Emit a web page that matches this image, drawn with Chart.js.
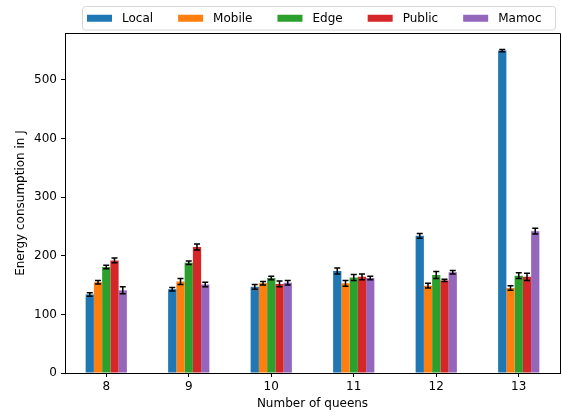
<!DOCTYPE html>
<html>
<head>
<meta charset="utf-8">
<script src="https://cdn.jsdelivr.net/npm/chart.js@4/dist/chart.umd.min.js"></script>
<style>
  html,body{margin:0;padding:0;background:#fff;}
  #wrap{width:562px;height:418px;}
</style>
</head>
<body>
<div id="wrap"><canvas id="c" width="562" height="418"></canvas></div>
<script>
const queens = ['8','9','10','11','12','13'];
const seriesNames = ['Local','Mobile','Edge','Public','Mamoc'];
const seriesColors = ['#1f77b4','#ff7f0e','#2ca02c','#d62728','#9467bd'];
const localVals  = [134, 143, 147, 174, 234, 550];
const mobileVals = [155, 156, 153, 153, 149, 145];
const edgeVals   = [181, 188, 162, 163, 167, 166];
const publicVals = [192, 215, 152, 164, 158, 164];
const mamocVals  = [141, 151, 154, 162, 172, 242];
const localErr  = [3, 3, 4, 5, 4, 2];
const mobileErr = [3, 5, 3, 5, 4, 4];
const edgeErr   = [3, 3, 3, 5, 6, 5];
const publicErr = [4, 5, 5, 5, 2, 6];
const mamocErr  = [6, 4, 4, 3, 3, 5];
const yTicks = [0, 100, 200, 300, 400, 500];

const values = [localVals, mobileVals, edgeVals, publicVals, mamocVals];
const errs = [localErr, mobileErr, edgeErr, publicErr, mamocErr];
const FONT = 'DejaVu Sans';

const errorBars = {
  id:'errorBars',
  afterDatasetsDraw(chart){
    const ctx=chart.ctx, y=chart.scales.y;
    ctx.save();
    ctx.strokeStyle='#000'; ctx.lineWidth=1.5;
    chart.data.datasets.forEach((ds,i)=>{
      const meta=chart.getDatasetMeta(i);
      meta.data.forEach((bar,j)=>{
        const v=ds.data[j], e=ds.err[j];
        const y1=y.getPixelForValue(v-e), y2=y.getPixelForValue(v+e);
        ctx.beginPath();
        ctx.moveTo(bar.x,y1); ctx.lineTo(bar.x,y2);
        ctx.moveTo(bar.x-3,y1); ctx.lineTo(bar.x+3,y1);
        ctx.moveTo(bar.x-3,y2); ctx.lineTo(bar.x+3,y2);
        ctx.stroke();
      });
    });
    ctx.restore();
  }
};

const frameAndLegend = {
  id:'frameAndLegend',
  afterDraw(chart){
    const ctx=chart.ctx, a=chart.chartArea;
    ctx.save();
    // top and right spines
    ctx.strokeStyle='#000'; ctx.lineWidth=1;
    ctx.beginPath();
    ctx.moveTo(a.left,a.top+0.5); ctx.lineTo(a.right+0.5,a.top+0.5);
    ctx.lineTo(a.right+0.5,a.bottom);
    ctx.stroke();
    // legend
    const fx=82, fy=6.5, fw=473, fh=23.5;
    ctx.fillStyle='rgba(255,255,255,0.8)';
    ctx.strokeStyle='#d6d6d6';
    ctx.beginPath();
    ctx.roundRect(fx+0.5,fy,fw,fh,3);
    ctx.fill(); ctx.stroke();
    ctx.font='12px "'+FONT+'"';
    ctx.textBaseline='middle';
    let x=87;
    const cy=fy+fh/2;
    chart.data.datasets.forEach(ds=>{
      ctx.fillStyle=ds.backgroundColor;
      ctx.fillRect(x,cy-3.5,25,7);
      x+=35;
      ctx.fillStyle='#000';
      ctx.fillText(ds.label,x,cy+0.5);
      x+=ctx.measureText(ds.label).width+25;
    });
    ctx.restore();
  }
};

new Chart(document.getElementById('c'),{
  type:'bar',
  data:{
    labels:queens,
    datasets:seriesNames.map((n,i)=>({
      label:n, data:values[i], err:errs[i],
      backgroundColor:seriesColors[i], borderWidth:0,
      categoryPercentage:0.5, barPercentage:1
    }))
  },
  options:{
    responsive:false, animation:false,
    layout:{padding:{top:33,right:2,left:0,bottom:0}},
    plugins:{legend:{display:false}, tooltip:{enabled:false}},
    scales:{
      x:{
        grid:{offset:false, drawOnChartArea:false, drawTicks:true, tickLength:4, color:'#000'},
        border:{display:true, color:'#000', width:1},
        ticks:{color:'#000', padding:3, font:{family:FONT,size:12}},
        title:{display:true, text:'Number of queens', color:'#000', padding:{top:0,bottom:7}, font:{family:FONT,size:12}},
        afterFit(s){ s.height=45; }
      },
      y:{
        min:0, max:580,
        afterBuildTicks(s){ s.ticks=yTicks.map(v=>({value:v})); },
        grid:{drawOnChartArea:false, drawTicks:true, tickLength:4, color:'#000'},
        border:{display:true, color:'#000', width:1},
        ticks:{color:'#000', padding:4, font:{family:FONT,size:12}},
        title:{display:true, text:'Energy consumption in J', color:'#000', padding:{top:14,bottom:0}, font:{family:FONT,size:12}},
        afterFit(s){ s.width=65; }
      }
    }
  },
  plugins:[errorBars, frameAndLegend]
});
</script>
</body>
</html>
